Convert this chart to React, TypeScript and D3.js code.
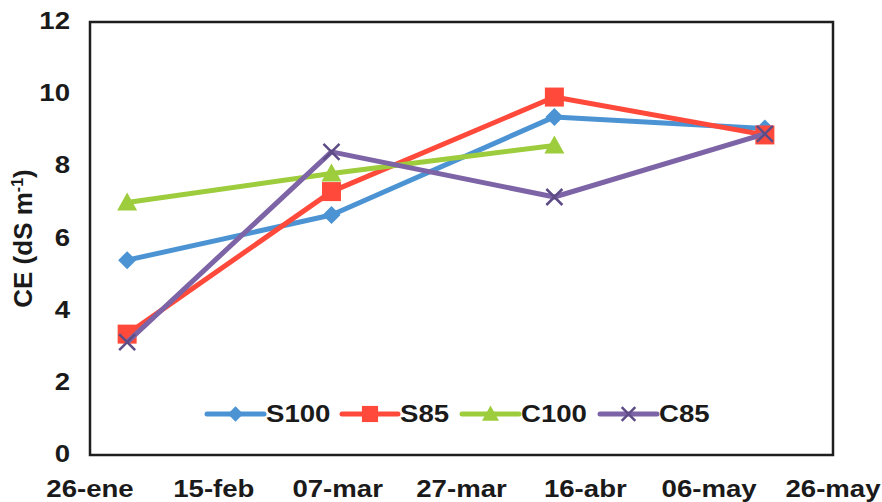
import React from "react";
import * as d3 from "d3";

// Sampling dates and electrical conductivity (CE, dS m-1) per treatment
const sampleDates = ["2013-02-01", "2013-03-06", "2013-04-11", "2013-05-15"];
const seriesNames = ["S100", "S85", "C100", "C85"];
const s100 = [5.4, 6.65, 9.37, 9.05];
const s85 = [3.35, 7.3, 9.92, 8.87];
const c100: (number | null)[] = [7.0, 7.8, 8.58, null];
const c85 = [3.13, 8.4, 7.15, 8.9];

const xTickLabels = ["26-ene", "15-feb", "07-mar", "27-mar", "16-abr", "06-may", "26-may"];
const yTicks = [0, 2, 4, 6, 8, 10, 12];

const W = 882;
const H = 502;
const frame = { left: 90, right: 833, top: 22, bottom: 455 };
const FONT = "'Liberation Sans', Arial, sans-serif";
const SX = 1.2; // horizontal stretch of the label type

const colors = ["#4b93d3", "#ff4a3b", "#9dcc3c", "#7d64a6"];
const markerKinds = ["diamond", "square", "triangle", "cross"];

const parse = d3.timeParse("%Y-%m-%d");

function Marker({ kind, x, y, color, scale = 1 }: { kind: string; x: number; y: number; color: string; scale?: number }) {
  if (kind === "diamond") {
    const r = 9 * scale;
    return <path d={`M${x},${y - r}L${x + r},${y}L${x},${y + r}L${x - r},${y}Z`} fill={color} />;
  }
  if (kind === "square") {
    const s = 19 * scale;
    return <rect x={x - s / 2} y={y - s / 2} width={s} height={s} fill={color} />;
  }
  if (kind === "triangle") {
    const r = 10 * scale;
    return <path d={`M${x},${y - r}L${x + r},${y + r * 0.8}L${x - r},${y + r * 0.8}Z`} fill={color} />;
  }
  const r = 8 * scale;
  return (
    <path
      d={`M${x - r},${y - r}L${x + r},${y + r}M${x - r},${y + r}L${x + r},${y - r}`}
      stroke="#5e4c86"
      strokeWidth={2.5}
      fill="none"
    />
  );
}

function SText({ x, y, anchor, children, size = 23 }: { x: number; y: number; anchor: string; children: React.ReactNode; size?: number }) {
  return (
    <g transform={`translate(${x},${y}) scale(${SX},1)`}>
      <text x={0} y={0} textAnchor={anchor} fontFamily={FONT} fontWeight="bold" fontSize={size} fill="#1a1a1a">
        {children}
      </text>
    </g>
  );
}

export default function App() {
  const start = parse("2013-01-26") as Date;
  const end = parse("2013-05-26") as Date;
  const x = d3.scaleTime().domain([start, end]).range([frame.left, frame.right]);
  const y = d3.scaleLinear().domain([0, 12]).range([frame.bottom, frame.top]);
  const xTicks = d3.range(xTickLabels.length).map((i) => d3.timeDay.offset(start, 20 * i));
  const dates = sampleDates.map((s) => parse(s) as Date);

  const allSeries = [s100, s85, c100, c85];
  const line = d3
    .line<[Date, number | null]>()
    .defined((d) => d[1] != null)
    .x((d) => x(d[0]))
    .y((d) => y(d[1] as number));

  // legend entries (line sample start x, text start x)
  const legendY = 414;
  const legendItems = [
    { x0: 207, x1: 264 },
    { x0: 342, x1: 398 },
    { x0: 462, x1: 519 },
    { x0: 600, x1: 657 },
  ];

  return (
    <svg width={W} height={H} style={{ position: "absolute", left: 0, top: 0, background: "#fff" }}>
      <rect x={0} y={0} width={W} height={H} fill="#fff" />

      {/* series */}
      {allSeries.map((vals, i) => {
        const pts = dates.map((d, j) => [d, vals[j]] as [Date, number | null]);
        return (
          <g key={seriesNames[i]}>
            <path d={line(pts) || ""} fill="none" stroke={colors[i]} strokeWidth={5} strokeLinejoin="round" />
            {pts
              .filter((p) => p[1] != null)
              .map((p, j) => (
                <Marker key={j} kind={markerKinds[i]} x={x(p[0])} y={y(p[1] as number)} color={colors[i]} />
              ))}
          </g>
        );
      })}

      {/* plot frame */}
      <rect
        x={frame.left}
        y={frame.top}
        width={frame.right - frame.left}
        height={frame.bottom - frame.top}
        fill="none"
        stroke="#1e1e1e"
        strokeWidth={2.5}
      />

      {/* y axis */}
      {yTicks.map((t) => (
        <SText key={t} x={70} y={y(t) + 7} anchor="end">
          {t}
        </SText>
      ))}
      <text
        transform={`translate(32,${(frame.top + frame.bottom) / 2}) rotate(-90)`}
        textAnchor="middle"
        fontFamily={FONT}
        fontWeight="bold"
        fontSize={26}
        fill="#1a1a1a"
      >
        CE (dS m<tspan dy={-9} fontSize={16}>-1</tspan>
        <tspan dy={9}>)</tspan>
      </text>

      {/* x axis */}
      {xTicks.map((t, i) => (
        <SText key={i} x={x(t)} y={497} anchor="middle">
          {xTickLabels[i]}
        </SText>
      ))}

      {/* legend */}
      {legendItems.map((it, i) => (
        <g key={seriesNames[i]}>
          <line x1={it.x0} x2={it.x1} y1={legendY} y2={legendY} stroke={colors[i]} strokeWidth={5} strokeLinecap="round" />
          <Marker kind={markerKinds[i]} x={(it.x0 + it.x1) / 2} y={legendY} color={colors[i]} scale={0.85} />
          <SText x={it.x1 + 2} y={legendY + 8} anchor="start">
            {seriesNames[i]}
          </SText>
        </g>
      ))}
    </svg>
  );
}
